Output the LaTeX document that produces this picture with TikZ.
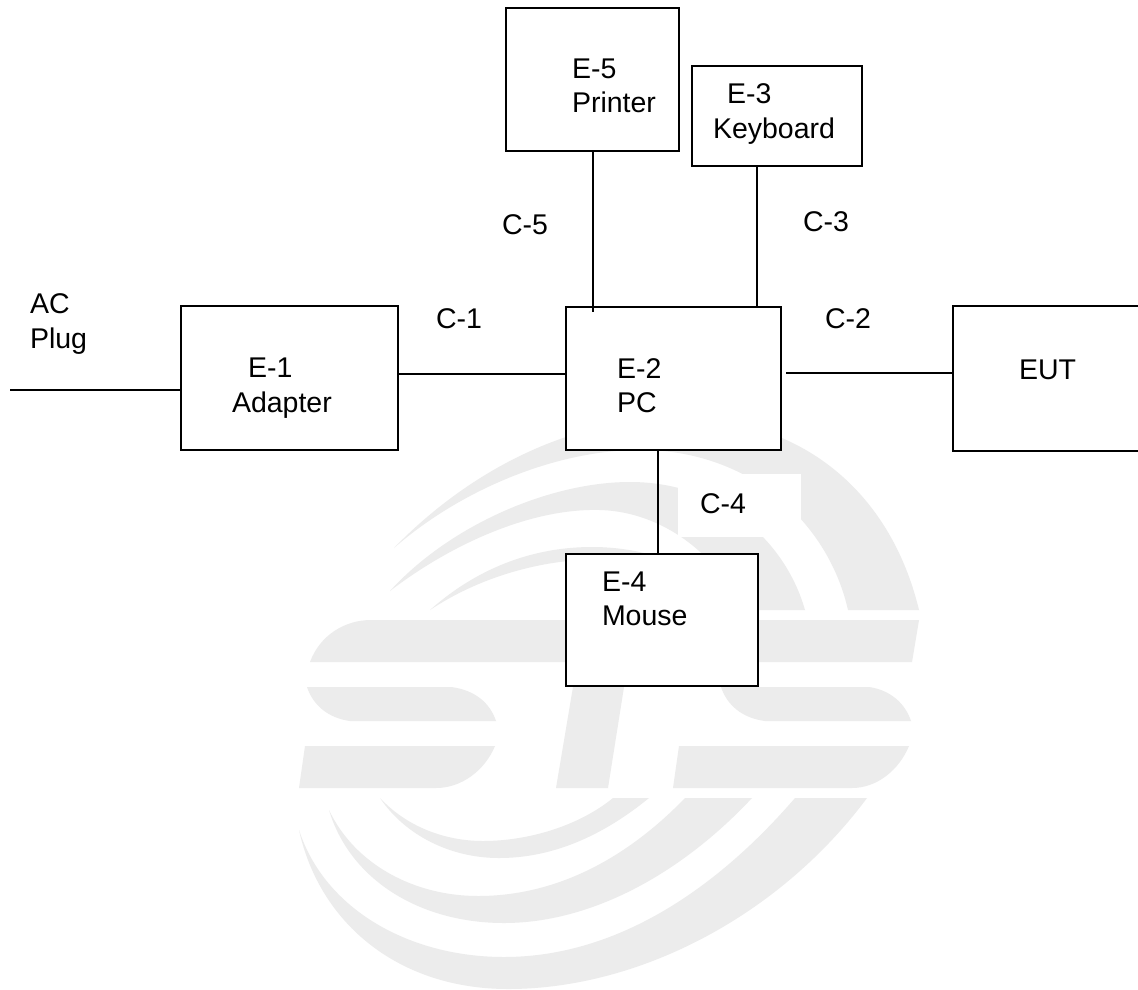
\documentclass[tikz,border=0pt]{standalone}
\usepackage{fontspec}
\setmainfont{Liberation Sans}
\definecolor{wm}{HTML}{ECECEC}
\tikzset{
  box/.style={draw=black,fill=white,line width=1.8pt,inner sep=0pt,outer sep=0pt},
  wire/.style={draw=black,line width=1.8pt},
  lab/.style={inner sep=0pt,outer sep=0pt,anchor=base west,align=left,text=black,font=\fontsize{28.5}{34.3}\selectfont},
  wmark/.style={fill=wm,draw=none},
}
\begin{document}
\begin{tikzpicture}[x=1pt,y=-1pt]
\useasboundingbox (0,0) rectangle (1138,989);
\fill[white] (0,0) rectangle (1138,989);
% watermark
\fill[wmark] (310,662) .. controls (320,635) and (345,620) .. (371,620) -- (919,620) -- (912,662) -- cycle;
\fill[wmark] (307,687) -- (451,687) .. controls (475,690) and (490,703) .. (496,721) -- (350,721) .. controls (328,718) and (313,705) .. (307,687) -- cycle;
\fill[wmark] (721,687) -- (869,687) .. controls (890,690) and (905,703) .. (911,721) -- (765,721) .. controls (742,718) and (727,705) .. (721,687) -- cycle;
\fill[wmark] (305,746) -- (495,746) .. controls (485,770) and (462,788) .. (436,788) -- (299,788) -- cycle;
\fill[wmark] (573,687) -- (624,687) -- (608,788) -- (556,788) -- cycle;
\fill[wmark] (679,746) -- (909,746) .. controls (899,770) and (877,788) .. (852,788) -- (673,788) -- cycle;
\fill[wmark] (380,798) .. controls (410,830) and (450,841) .. (483,841) .. controls (530,841) and (580,825) .. (613,798) -- (649,798) .. controls (600,838) and (550,858) .. (499,858) .. controls (450,858) and (405,835) .. (380,798) -- cycle;
\fill[wmark] (329,810) .. controls (355,865) and (415,896) .. (478,896) .. controls (560,896) and (630,855) .. (685,798) -- (752,798) .. controls (680,875) and (590,923) .. (504,923) .. controls (420,923) and (350,880) .. (329,810) -- cycle;
\fill[wmark] (299,830) .. controls (325,910) and (410,957) .. (504,957) .. controls (620,957) and (720,885) .. (795,798) -- (867,798) .. controls (780,915) and (640,989) .. (508,989) .. controls (400,989) and (320,925) .. (299,830) -- cycle;
\fill[wmark] (394,548) .. controls (460,480) and (560,418) .. (680,418) .. controls (800,418) and (890,490) .. (919,610) -- (848,610) .. controls (830,530) and (760,455) .. (650,450) .. controls (560,447) and (460,490) .. (394,548) -- cycle;
\fill[wmark] (390,591) .. controls (450,525) and (550,482) .. (630,482) .. controls (720,482) and (785,540) .. (805,610) -- (740,610) .. controls (725,565) and (670,512) .. (600,510) .. controls (530,508) and (450,545) .. (390,591) -- cycle;
\fill[wmark] (430,610) .. controls (475,570) and (530,547) .. (592,547) .. controls (620,547) and (650,552) .. (680,565) -- (600,560) .. controls (560,558) and (490,570) .. (430,610) -- cycle;
\fill[white] (678,474) rectangle (801,537);
% boxes
\node[box,minimum width=173pt,minimum height=143pt] (E5) at (592.5,79.5) {};
\node[box,minimum width=170pt,minimum height=100pt] (E3) at (777,116) {};
\node[box,minimum width=215pt,minimum height=143pt] (E2) at (673.5,378.5) {};
\node[box,minimum width=217pt,minimum height=144pt] (E1) at (289.5,378) {};
\node[box,minimum width=192pt,minimum height=132pt] (E4) at (662,620) {};
\node[box,minimum width=190pt,minimum height=145pt] (EUT) at (1048,378.5) {};
% free ends
\coordinate (acend) at (10,390);
\coordinate (c5end) at (593,312);
\coordinate (c2start) at (786,373);
% connectors
\draw[wire] (acend) -- (acend -| E1.west);
\draw[wire] (E1.east |- 0,374) -- (E2.west |- 0,374);
\draw[wire] (c2start) -- (c2start -| EUT.west);
\draw[wire] (c5end |- E5.south) -- (c5end);
\draw[wire] (757,0 |- E3.south) -- (757,0 |- E2.north);
\draw[wire] (658,0 |- E2.south) -- (658,0 |- E4.north);
% labels (base anchor of a two-line node is its last line)
\node[lab] (lac) at (30,348) {AC\\Plug};
\node[lab] (le1) at (232,412) {\hspace*{16pt}E-1\\Adapter};
\node[lab] (le2) at (617,412.5) {E-2\\PC};
\node[lab] (le3) at (713,138) {\hspace*{14pt}E-3\\Keyboard};
\node[lab] (le4) at (602,625.5) {E-4\\Mouse};
\node[lab] (le5) at (572,112.5) {E-5\\Printer};
\node[lab] (leut) at (1019,379) {EUT};
\node[lab] (lc1) at (436,328) {C-1};
\node[lab] (lc2) at (825,328) {C-2};
\node[lab] (lc3) at (803,231) {C-3};
\node[lab] (lc4) at (700,513) {C-4};
\node[lab] (lc5) at (502,234) {C-5};
\end{tikzpicture}
\end{document}
